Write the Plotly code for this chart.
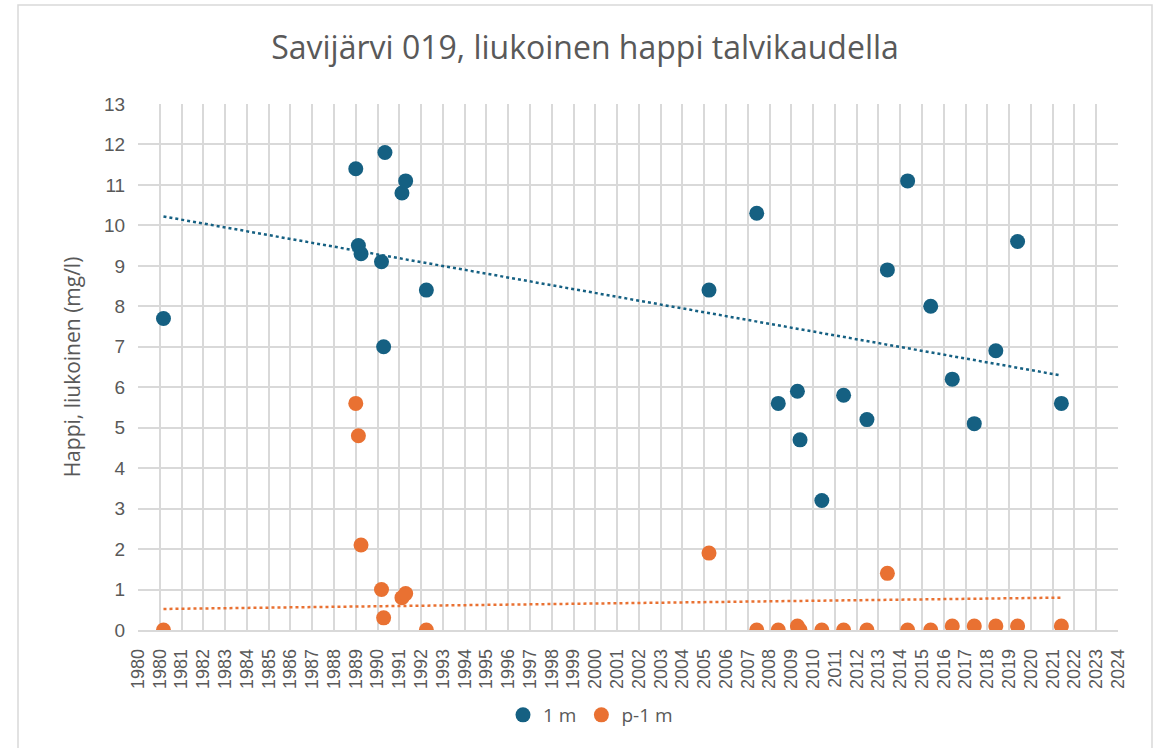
"""Savijärvi 019 — liukoinen happi talvikaudella (scatter + lineaariset trendit)"""
import pandas as pd
import plotly.graph_objects as go

# ------------------------------------------------------------
# Data (luettu kuvasta)
# ------------------------------------------------------------
dates_1m = [
    "1981-03-03", "1989-12-29", "1990-02-11", "1990-03-27", "1991-03-05",
    "1991-04-10", "1991-05-02", "1992-02-11", "1992-04-13", "1993-03-26",
    "2006-03-15", "2008-05-23", "2009-05-19", "2010-04-05", "2010-05-19",
    "2011-05-19", "2012-05-18", "2013-06-13", "2014-05-22", "2015-04-26",
    "2016-05-17", "2017-05-13", "2018-05-17", "2019-05-13", "2020-05-12",
    "2022-05-16",
]
o2_1m = [
    7.7, 11.4, 9.5, 9.3, 9.1,
    7.0, 11.8, 10.8, 11.1, 8.4,
    8.4, 10.3, 5.6, 5.9, 4.7,
    3.2, 5.8, 5.2, 8.9, 11.1,
    8.0, 6.2, 5.1, 6.9, 9.6,
    5.6,
]

dates_p1m = [
    "1981-03-03", "1989-12-29", "1990-02-11", "1990-03-27", "1991-03-05",
    "1991-04-10", "1992-02-11", "1992-04-13", "1993-03-26",
    "2006-03-15", "2008-05-23", "2009-05-19", "2010-04-05", "2010-05-19",
    "2011-05-19", "2012-05-18", "2013-06-13", "2014-05-22", "2015-04-26",
    "2016-05-17", "2017-05-13", "2018-05-17", "2019-05-13", "2020-05-12",
    "2022-05-16",
]
o2_p1m = [
    0.0, 5.6, 4.8, 2.1, 1.0,
    0.3, 0.8, 0.9, 0.0,
    1.9, 0.0, 0.0, 0.1, 0.0,
    0.0, 0.0, 0.0, 1.4, 0.0,
    0.0, 0.1, 0.1, 0.1, 0.1,
    0.1,
]

# Excelin lineaaristen trendiviivojen arvot ensimmäisellä ja viimeisellä päivällä
trend_1m = [10.22, 6.29]
trend_p1m = [0.52, 0.80]

TITLE = "Savijärvi 019, liukoinen happi talvikaudella"
Y_TITLE = "Happi, liukoinen (mg/l)"
AXIS_START = "1980-01-01"
TICK_DAYS = 365
N_TICKS = 45

BLUE = "#156082"
ORANGE = "#E97132"
TEXT = "#595959"
GRID = "#D9D9D9"
TICK_FONT = "Liberation Sans, Arial, sans-serif"
LABEL_FONT = "Open Sans, Liberation Sans, sans-serif"

fig = go.Figure()
for name, dates, vals, color in [("1 m", dates_1m, o2_1m, BLUE),
                                 ("p-1 m", dates_p1m, o2_p1m, ORANGE)]:
    fig.add_trace(go.Scatter(
        x=pd.to_datetime(dates), y=vals, name=name, mode="markers",
        marker=dict(color=color, size=15, line=dict(width=0)),
    ))
for dates, trend, color in [(dates_1m, trend_1m, BLUE), (dates_p1m, trend_p1m, ORANGE)]:
    d = pd.to_datetime(dates)
    fig.add_trace(go.Scatter(
        x=[d.min(), d.max()], y=trend, mode="lines", showlegend=False, hoverinfo="skip",
        line=dict(color=color, width=2.5, dash="dot"),
    ))

start = pd.Timestamp(AXIS_START)
end = start + pd.Timedelta(days=TICK_DAYS * N_TICKS)

# Plot area pixel geometry
L, R, T, B = 138, 41, 104, 118
W, H = 1159, 748
pw, ph = W - L - R, H - T - B


def _px(x, y):
    return (x - L) / pw, (H - B - y) / ph


x0, y0 = _px(18, 762)
x1, y1 = _px(1152, 5)
leg_x, leg_y = _px(503, 715)

fig.update_layout(
    width=W, height=H,
    margin=dict(l=L, r=R, t=T, b=B),
    paper_bgcolor="white", plot_bgcolor="white",
    font=dict(family=TICK_FONT, color=TEXT),
    title=dict(text=TITLE, x=585 / W, xref="container", xanchor="center",
               y=1 - 48 / H, yanchor="middle",
               font=dict(family=LABEL_FONT, size=32, color=TEXT)),
    xaxis=dict(
        type="date", range=[start, end], tick0=start, dtick=TICK_DAYS * 86400000,
        tickformat="%Y", tickangle=-90, tickfont=dict(size=18, color=TEXT),
        showgrid=True, gridcolor=GRID, gridwidth=1.5,
        showline=True, linecolor=GRID, linewidth=1.5,
        ticks="outside", ticklen=0, ticklabelstandoff=10, zeroline=False,
    ),
    yaxis=dict(
        range=[0, 13], dtick=1, tickfont=dict(size=19, color=TEXT),
        showgrid=True, gridcolor=GRID, gridwidth=1.5, zeroline=False,
        ticks="outside", ticklen=0, ticklabelstandoff=8,
        title=dict(text=Y_TITLE, font=dict(family=LABEL_FONT, size=21, color=TEXT), standoff=17),
    ),
    legend=dict(orientation="h", x=leg_x, xanchor="left", y=leg_y, yanchor="middle",
                font=dict(family=LABEL_FONT, size=19, color=TEXT), itemwidth=30, tracegroupgap=0),
    showlegend=True,
    shapes=[dict(type="rect", xref="paper", yref="paper", x0=x0, y0=y0, x1=x1, y1=y1,
                 line=dict(color=GRID, width=1.5), layer="below")],
)

# sivun oletusmarginaali pois, jotta kaavio alkaa ikkunan kulmasta
fig.write_html("out.html", config={"displayModeBar": False},
               post_script="document.body.style.margin='0';")
